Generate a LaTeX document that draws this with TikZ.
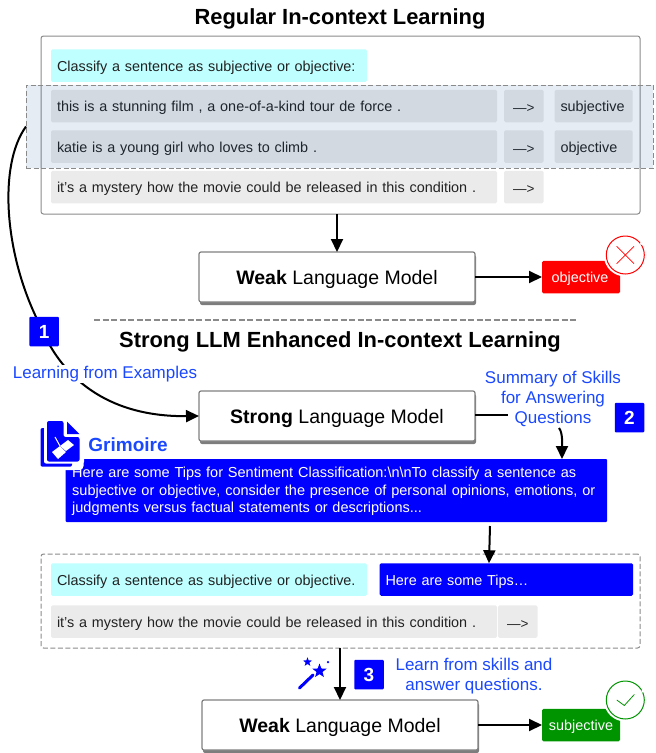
\documentclass[tikz,border=0pt]{standalone}
\usepackage{fontspec}
\setmainfont{Liberation Sans}
\usepackage{amsmath}
\usetikzlibrary{shapes}
\usetikzlibrary{shapes.geometric}
\usetikzlibrary{arrows.meta}
\usetikzlibrary{positioning}
\usetikzlibrary{shadows}
\definecolor{tcyan}{HTML}{BFFFFF}
\definecolor{tgrey}{HTML}{EBEBEB}
\definecolor{tband}{RGB}{5,65,135}
\definecolor{tline}{HTML}{8A8A8A}
\definecolor{tlabel}{HTML}{1A48FF}
\definecolor{tgreen}{HTML}{009400}
\definecolor{tink}{HTML}{222222}
\tikzstyle{tbox} = [rectangle, rounded corners=1.5pt, outer sep=0pt, inner ysep=0pt, inner xsep=6pt,
minimum height=32.5pt, text height=12pt, text depth=1pt, align=left, text=tink,
font=\fontsize{14.4}{17}\selectfont]
\tikzstyle{sent} = [tbox, fill=tgrey, text width=434pt]
\tikzstyle{instr} = [tbox, fill=tcyan, text width=304pt]
\tikzstyle{arrowbox} = [tbox, fill=tgrey, minimum width=39.5pt, align=center, inner xsep=0pt, text height=13pt, text depth=0pt,
font=\fontsize{13.5}{17}\selectfont]
\tikzstyle{labelbox} = [tbox, fill=tgrey, text width=66pt]
\tikzstyle{frame} = [rectangle, rounded corners=2.5pt, draw=tline, line width=1pt, outer sep=0pt, inner sep=0pt]
\tikzstyle{dashes} = [dash pattern=on 5pt off 2.5pt]
\tikzstyle{model} = [rectangle, rounded corners=2pt, draw=black!50, fill=white, line width=1.2pt, outer sep=0pt,
minimum width=276pt, minimum height=50pt, text height=14.5pt, text depth=0.5pt, font=\fontsize{19.5}{22}\selectfont,
drop shadow={shadow xshift=1pt, shadow yshift=-3pt, fill=black!60, opacity=0.85}]
\tikzstyle{title} = [font=\fontsize{21.9}{25}\selectfont\bfseries]
\tikzstyle{badge} = [rectangle, rounded corners=1pt, fill=blue, text=white, minimum size=29.5pt, inner sep=0pt,
font=\fontsize{19}{19}\selectfont\bfseries]
\tikzstyle{note} = [text=tlabel, align=center, inner sep=1pt, font=\fontsize{17}{20}\selectfont]
\tikzstyle{result} = [rectangle, rounded corners=1.5pt, text=white, minimum width=78pt, minimum height=32.5pt,
inner sep=0pt, outer sep=0pt, text height=12pt, text depth=1pt, font=\fontsize{14.4}{17}\selectfont]
\tikzstyle{verdict} = [circle, fill=white, line width=1pt, minimum size=38pt, inner sep=0pt,
preaction={draw=white, line width=5pt}]
\tikzstyle{flow} = [->, line width=2pt, black]
\tikzset{>={Triangle[length=13pt,width=12pt]}}

\begin{document}
\begin{tikzpicture}[x=1pt, y=-1pt]
	\useasboundingbox (0,0) rectangle (656,753);

	% upper half
	\node[title] (title1) at (340,19) {Regular In-context Learning};
	\node[frame, minimum width=599pt, minimum height=178pt] (prompt) at (340.5,125) {};
	\node[instr] (task) at (209,65.7) {Classify a sentence as subjective or objective:};

	\node[sent] (s1) at (274,106) {this is a stunning film , a one-of-a-kind tour de force .};
	\node[arrowbox, right=7pt of s1] (a1) {—>};
	\node[labelbox, right=11pt of a1] (l1) {subjective};
	\node[sent] (s2) at (274,146.5) {katie is a young girl who loves to climb .};
	\node[arrowbox, right=7pt of s2] (a2) {—>};
	\node[labelbox, right=11pt of a2] (l2) {objective};
	\node[sent] (s3) at (274,187) {it's a mystery how the movie could be released in this condition .};
	\node[arrowbox, right=7pt of s3] (a3) {—>};

	\node[rectangle, draw=tline, fill=tband, fill opacity=0.1, draw opacity=1, dashes, line width=1pt,
		outer sep=0pt, inner sep=0pt, minimum width=627pt, minimum height=83pt] (band) at (339.5,126.5) {};

	\node[model] (weak1) at (337,277) {\textbf{Weak} Language Model};
	\node[result, fill=red] (ans1) at (581,277) {\hspace*{-2pt}objective};
	\node[verdict, draw=red] (no) at (625.3,255) {};
	\draw[white, line width=2pt] (no.32) -- (no.38);
	\draw[red, line width=0.7pt] ([shift={(-8.7,-8.7)}]no.center) -- ([shift={(8.7,8.7)}]no.center);
	\draw[red, line width=0.7pt] ([shift={(-8.7,8.7)}]no.center) -- ([shift={(8.7,-8.7)}]no.center);

	\draw[flow] (prompt.south -| weak1.north) -- (weak1.north);
	\draw[flow] (weak1.east) -- (ans1.west);

	\coordinate (ruleL) at (94,320);
	\coordinate (ruleR) at (576,320);
	\draw[tline, dash pattern=on 6pt off 2.5pt, line width=1.4pt] (ruleL) -- (ruleR);

	% lower half
	\node[title] (title2) at (340,342) {Strong LLM Enhanced In-context Learning};
	\node[model] (strong) at (337,416) {\textbf{Strong} Language Model};

	\draw[flow] (band.west) .. controls (-2,165) and (4,255) .. (40,325)
		.. controls (60,375) and (105,417) .. (strong.west);
	\node[badge] (b1) at (44.2,331.5) {1};
	\node[note, fill=white] (learn) at (105,374) {Learning from Examples};

	\node[rectangle, rounded corners=1pt, fill=blue, minimum width=541.5pt, minimum height=63pt, inner sep=0pt, outer sep=0pt] (grim) at (336.3,490.5) {};
	\node[anchor=north west, text=white, inner sep=0pt, text width=535pt, align=left,
		font=\fontsize{14.5}{17.6}\selectfont] (grimtext) at (72,467) {Here are some Tips for Sentiment Classification:\textbackslash n\textbackslash nTo classify a sentence as\\
		subjective or objective, consider the presence of personal opinions, emotions, or\\
		judgments versus factual statements or descriptions...};

	\node[note] (sum) at (553,399) {Summary of Skills\\for Answering\\Questions};
	\node[badge] (b2) at (629.5,417.5) {2};
	\coordinate (sumfoot) at (508,415);
	\draw[line width=2pt] (strong.east |- sumfoot) -- (sumfoot);
	\draw[flow] ([xshift=6pt]sum.south) .. controls (563,433) and (562,445) .. (grim.north -| 562,0);

	% grimoire icon
	\fill[white, rounded corners=4pt] (36,455) rectangle (83.5,470);
	\fill[blue, rounded corners=2pt] (40.5,428) rectangle (72,466.7);
	\fill[white, rounded corners=2pt] (44,424) rectangle (84,463.5);
	\fill[blue, rounded corners=2pt] (47,421) -- (63.5,421) -- (63.5,437) -- (79.5,437) -- (79.5,461.5) -- (47,461.5) -- cycle;
	\fill[blue] (67,421.5) -- (79.5,434) -- (67,434) -- cycle;
	\draw[white, line width=1pt] (55,437) -- (60,446);
	\fill[white] (52,452) -- (60,446) -- (66,452) -- (58,459) -- cycle;
	\fill[white] (60,446) -- (68,440) -- (74,445) -- (66,451) -- cycle;
	\node[text=tlabel, inner sep=0pt, font=\fontsize{19}{20}\selectfont\bfseries] (grimname) at (128,444.5) {Grimoire};

	\node[frame, dashes, minimum width=599pt, minimum height=94pt] (query) at (340.5,601) {};
	\node[instr] (task2) at (209,579.5) {Classify a sentence as subjective or objective.};
	\node[tbox, fill=blue, text=white, text width=241.5pt] (tips) at (506.3,579.5) {Here are some Tips…};
	\node[sent] (s4) at (274,621.5) {it's a mystery how the movie could be released in this condition .};
	\node[arrowbox, right=1pt of s4] (a4) {—>};

	\draw[flow] (490,526) -- (tips.north -| 489,0);

	\node[model] (weak2) at (340,725) {\textbf{Weak} Language Model};
	\draw[flow] (query.south -| weak2.north) -- (weak2.north);

	% wand
	\draw[blue, line width=3pt, line cap=round] (299.5,688) -- (313,675);
	\node[star, star points=5, star point ratio=2.4, fill=blue, inner sep=0pt, minimum size=15pt] (bigstar) at (319.5,671) {};
	\node[star, star points=5, star point ratio=2.4, fill=blue, inner sep=0pt, minimum size=9.5pt] (smallstar) at (307.5,662) {};
	\node[circle, fill=blue, inner sep=0pt, minimum size=2.5pt] (spark) at (328,662) {};

	\node[badge] (b3) at (369,674.5) {3};
	\node[note] (answer) at (474,676.5) {Learn from skills and\\answer questions.};

	\node[result, fill=tgreen] (ans2) at (581,725) {subjective};
	\node[verdict, draw=tgreen] (yes) at (625.3,700) {};
	\draw[white, line width=2pt] (yes.24) -- (yes.30);
	\draw[tgreen, line width=0.8pt] ([shift={(-8.5,0)}]yes.center) -- ([shift={(-1,5.5)}]yes.center) -- ([shift={(9,-5.5)}]yes.center);
	\draw[flow] (weak2.east) -- (ans2.west);
\end{tikzpicture}
\end{document}
